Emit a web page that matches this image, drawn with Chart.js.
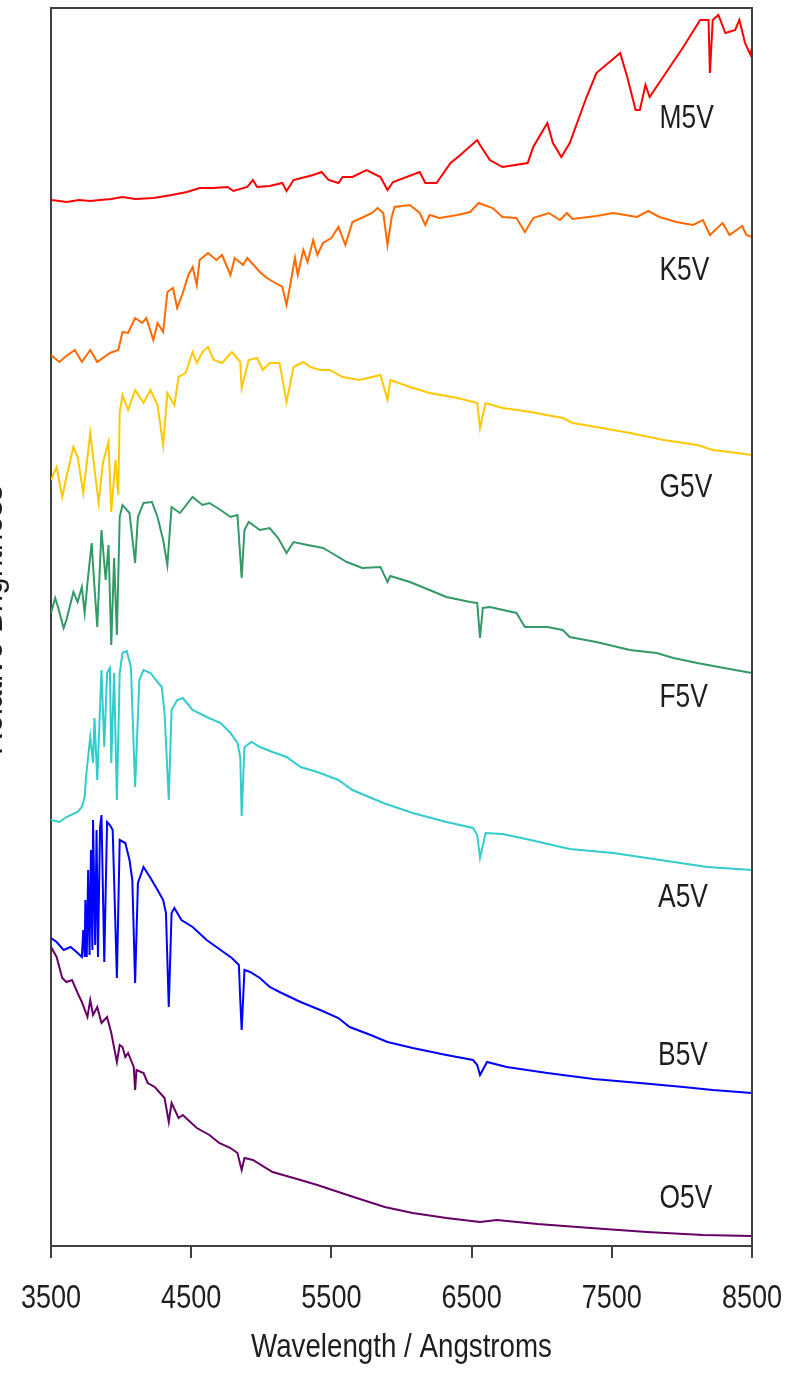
<!DOCTYPE html>
<html>
<head>
<meta charset="utf-8">
<script src="https://cdn.jsdelivr.net/npm/chart.js@4.4.1/dist/chart.umd.min.js"></script>
<style>
  html, body { margin: 0; padding: 0; background: #fff; }
  #wrap { position: relative; width: 785px; height: 1374px; }
</style>
</head>
<body>
<div id="wrap"><canvas id="spec"></canvas></div>
<script>
// ═════ DATA ═════
// wavelength in Angstroms, brightness in arbitrary (offset) units
const tickValues = [3500, 4500, 5500, 6500, 7500, 8500];
const starNames = ['M5V', 'K5V', 'G5V', 'F5V', 'A5V', 'B5V', 'O5V'];
const starColors = ['#ff0000', '#ff6a00', '#ffc800', '#339966', '#33cccc', '#0000ff', '#660066'];
// label anchors (wavelength, brightness) for the star type labels
const labelWl = [7840, 7840, 7840, 7840, 7830, 7830, 7840];
const labelLevel = [1118, 966, 749, 539, 339, 181, 38];

const wlM5V = [3500,3560,3610,3700,3780,3850,3930,4010,4100,4230,4360,4470,4560,4650,4760,4800,4900,4940,4970,5060,5150,5180,5230,5370,5430,5480,5550,5580,5650,5750,5850,5900,5940,6130,6170,6250,6350,6420,6540,6560,6630,6720,6900,6940,7040,7080,7140,7200,7320,7390,7560,7610,7670,7700,7740,7770,7890,8010,8130,8190,8200,8220,8260,8310,8380,8410,8450,8490,8500];
const fxM5V = [1046,1045,1044,1046,1045,1046,1047,1049,1047,1048,1051,1054,1058,1058,1059,1055,1059,1066,1059,1060,1063,1055,1066,1071,1074,1066,1063,1069,1069,1076,1069,1056,1064,1074,1063,1063,1083,1091,1106,1101,1086,1079,1083,1099,1123,1103,1089,1103,1149,1173,1193,1169,1136,1136,1161,1149,1174,1199,1226,1226,1173,1226,1231,1213,1216,1226,1203,1191,1199];

const wlK5V = [3500,3560,3600,3670,3720,3780,3830,3920,3980,4010,4050,4100,4150,4180,4230,4260,4300,4330,4370,4400,4440,4480,4510,4540,4560,4620,4680,4720,4780,4810,4870,4900,4990,5040,5100,5150,5180,5200,5240,5260,5300,5330,5370,5400,5440,5500,5550,5600,5650,5730,5790,5830,5870,5900,5930,5950,6060,6130,6170,6200,6270,6400,6490,6550,6650,6720,6820,6880,6940,7050,7130,7180,7220,7390,7510,7680,7760,7840,7960,8080,8150,8200,8290,8340,8430,8460,8500];
const fxK5V = [891,884,889,896,884,896,884,893,896,914,913,928,923,928,906,923,914,954,958,938,953,971,979,961,986,993,986,991,971,988,981,988,974,968,963,959,941,956,988,971,996,984,1006,991,1003,1008,1019,1001,1024,1029,1033,1038,1033,1001,1029,1039,1041,1033,1021,1031,1028,1031,1034,1043,1038,1029,1028,1014,1028,1033,1026,1033,1027,1030,1033,1029,1035,1029,1024,1021,1026,1011,1023,1011,1020,1011,1009];

const wlG5V = [3500,3540,3580,3610,3660,3690,3730,3780,3800,3840,3870,3910,3930,3960,3980,3990,4010,4050,4100,4160,4210,4260,4300,4330,4380,4410,4460,4510,4540,4580,4620,4660,4720,4790,4850,4860,4910,4970,5010,5060,5130,5180,5230,5300,5350,5420,5490,5580,5700,5850,5900,5920,6060,6200,6400,6540,6560,6600,6720,6920,7150,7220,7390,7630,7870,8110,8220,8340,8500];
const fxG5V = [766,779,749,769,799,789,753,813,789,743,783,804,734,786,751,833,851,836,856,843,856,841,801,853,841,869,873,894,883,894,899,886,883,894,884,858,886,888,876,883,883,844,879,884,879,876,876,869,866,871,846,866,859,853,848,843,818,843,838,834,828,823,819,813,806,801,796,794,791];

const wlF5V = [3500,3530,3550,3590,3610,3660,3690,3720,3740,3760,3790,3810,3830,3860,3890,3910,3930,3950,3970,3990,4010,4060,4100,4120,4160,4220,4260,4300,4330,4360,4420,4510,4580,4630,4710,4780,4830,4860,4880,4910,4990,5060,5120,5180,5230,5330,5440,5490,5610,5720,5850,5900,5920,6060,6200,6320,6490,6540,6560,6580,6630,6820,6880,7040,7150,7200,7390,7630,7820,7940,8110,8340,8500];
const fxF5V = [633,648,639,618,626,654,644,659,633,663,703,659,619,716,666,701,601,688,611,729,741,733,683,729,743,744,729,706,681,739,733,749,741,743,736,729,731,668,716,724,716,718,708,693,704,701,698,694,684,678,679,664,670,664,656,649,644,643,608,638,639,633,619,619,616,609,604,596,593,588,583,577,573];

const wlA5V = [3500,3560,3610,3690,3720,3740,3750,3780,3800,3810,3830,3860,3880,3900,3920,3930,3950,3970,3990,4010,4040,4070,4100,4130,4160,4210,4260,4290,4310,4340,4360,4400,4440,4510,4610,4710,4780,4830,4850,4860,4880,4930,4990,5080,5180,5280,5400,5550,5650,5870,6080,6320,6510,6540,6560,6600,6720,6920,7200,7510,7750,7990,8180,8500];
const fxA5V = [426,424,429,434,439,449,469,509,483,528,466,576,499,573,578,483,573,446,573,593,595,579,459,566,576,573,564,559,533,446,536,546,548,536,529,523,513,503,489,430,499,504,499,494,489,479,474,466,456,443,433,424,418,411,388,413,412,406,397,393,388,383,379,376];

const wlB5V = [3500,3540,3590,3640,3690,3720,3730,3740,3745,3755,3765,3775,3785,3795,3800,3815,3825,3835,3850,3860,3880,3900,3920,3940,3970,3990,4030,4060,4080,4100,4120,4160,4210,4260,4300,4320,4340,4360,4380,4430,4510,4610,4710,4790,4840,4850,4860,4880,4920,4990,5060,5130,5280,5420,5550,5630,5780,5900,6080,6320,6510,6540,6560,6610,6750,7040,7370,7700,8010,8220,8500];
const fxB5V = [308,304,296,299,293,289,316,289,346,289,376,291,396,296,426,301,416,289,419,431,284,424,421,416,268,406,403,386,366,263,363,379,368,356,346,333,239,333,338,326,319,306,296,288,281,246,216,276,274,268,259,254,244,236,228,219,211,204,198,191,186,181,171,184,179,173,167,163,159,156,153];

const wlO5V = [3500,3540,3580,3610,3650,3690,3720,3760,3780,3800,3830,3860,3900,3930,3970,3990,4010,4030,4050,4090,4100,4110,4160,4190,4240,4310,4340,4360,4410,4440,4540,4630,4700,4780,4830,4860,4880,4940,5080,5230,5400,5550,5680,5880,6080,6320,6560,6680,6970,7350,7750,8150,8500];
const fxO5V = [299,289,268,264,266,253,244,229,246,231,239,223,229,213,184,201,199,189,193,179,156,176,173,163,159,148,124,143,128,131,118,111,103,98,93,76,88,86,74,68,61,54,48,39,33,28,24,26,22,18,14,11,10];

const wlSets = [wlM5V, wlK5V, wlG5V, wlF5V, wlA5V, wlB5V, wlO5V];
const fxSets = [fxM5V, fxK5V, fxG5V, fxF5V, fxA5V, fxB5V, fxO5V];

// ═════ HELPERS ═════
function pts(wl, fx) {
  const n = Math.min(wl.length, fx.length);
  const out = [];
  for (let i = 0; i < n; i++) out.push({ x: wl[i], y: fx[i] });
  return out;
}

const FONT = '33px "Liberation Sans", Arial, sans-serif';
const TXT = '#1e1e1e';
const AXIS = '#404040';

// squeezed text, like the narrow lettering in the original figure
function narrowText(ctx, str, x, y, align, sx) {
  ctx.save();
  ctx.translate(x, y);
  ctx.scale(sx, 1);
  ctx.font = FONT;
  ctx.fillStyle = TXT;
  ctx.textAlign = align;
  ctx.textBaseline = 'alphabetic';
  ctx.fillText(str, 0, 0);
  ctx.restore();
}

const textPlugin = {
  id: 'specText',
  afterDraw(chart) {
    const { ctx, chartArea: a, scales } = chart;
    const xs = scales.x, ys = scales.y;
    // top and right frame
    ctx.save();
    ctx.strokeStyle = AXIS;
    ctx.lineWidth = 2;
    ctx.beginPath();
    ctx.moveTo(a.left, a.top);
    ctx.lineTo(a.right, a.top);
    ctx.lineTo(a.right, a.bottom);
    ctx.stroke();
    ctx.restore();
    // tick labels
    xs.ticks.forEach(t => narrowText(ctx, String(t.value), xs.getPixelForValue(t.value), a.bottom + 62, 'center', 0.82));
    // axis titles
    narrowText(ctx, 'Wavelength / Angstroms', (a.left + a.right) / 2, a.bottom + 111, 'center', 0.84);
    // y title sits mostly beyond the left edge, as in the original crop
    ctx.save();
    ctx.translate(2, (a.top + a.bottom) / 2 - 7);
    ctx.rotate(-Math.PI / 2);
    ctx.scale(0.95, 1);
    ctx.font = FONT;
    ctx.fillStyle = TXT;
    ctx.textAlign = 'center';
    ctx.fillText('Relative Brightness', 0, 0);
    ctx.restore();
    // star labels
    starNames.forEach((n, i) => {
      narrowText(ctx, n, xs.getPixelForValue(labelWl[i]), ys.getPixelForValue(labelLevel[i]), 'left', 0.8);
    });
  }
};

// ═════ CHART ═════
const datasets = starNames.map((n, i) => ({
  label: n,
  data: pts(wlSets[i], fxSets[i]),
  borderColor: starColors[i],
  backgroundColor: starColors[i],
  borderWidth: 2,
  pointRadius: 0,
  tension: 0,
  fill: false
}));

new Chart(document.getElementById('spec').getContext('2d'), {
  type: 'line',
  data: { datasets },
  options: {
    responsive: true,
    maintainAspectRatio: false,
    animation: false,
    devicePixelRatio: 1,
    layout: { padding: { top: 8, right: 33, left: 0, bottom: 0 } },
    plugins: { legend: { display: false }, tooltip: { enabled: false } },
    scales: {
      x: {
        type: 'linear', min: 3500, max: 8500,
        afterBuildTicks: s => { s.ticks = tickValues.map(v => ({ value: v })); },
        afterFit: s => { s.height = 128; },
        grid: { drawOnChartArea: false, drawTicks: true, tickLength: 12, color: AXIS, lineWidth: 2 },
        border: { display: true, color: AXIS, width: 2 },
        ticks: { display: false }
      },
      y: {
        min: 0, max: 1238,
        afterFit: s => { s.width = 51; },
        grid: { display: false },
        border: { display: true, color: AXIS, width: 2 },
        ticks: { display: false }
      }
    }
  },
  plugins: [textPlugin]
});
</script>
</body>
</html>
